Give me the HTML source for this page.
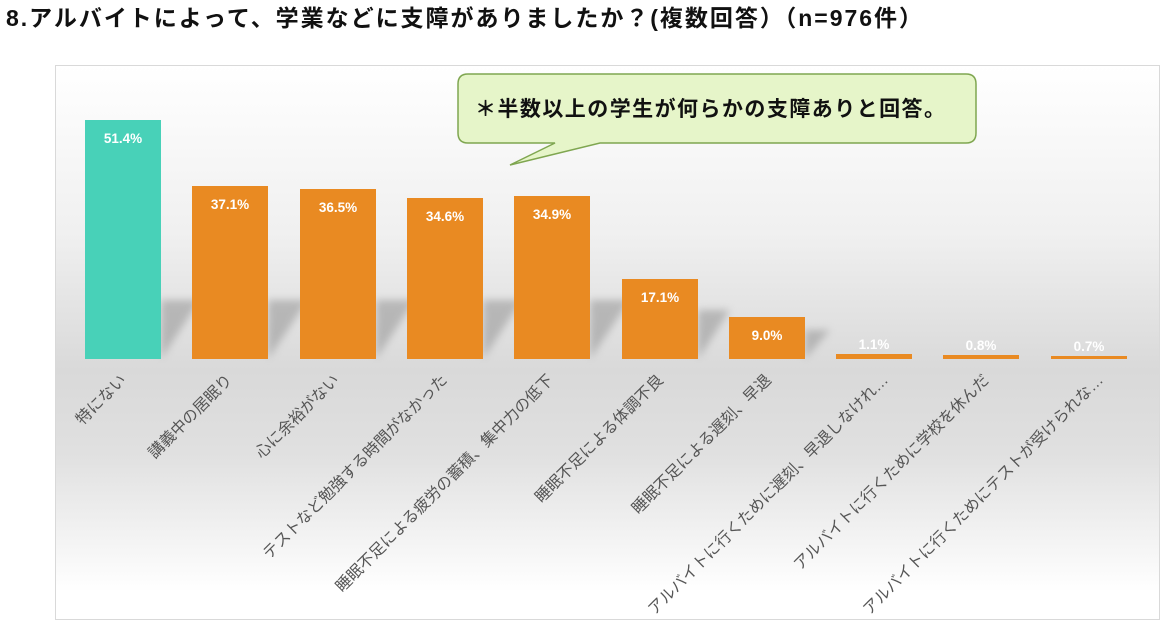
<!DOCTYPE html>
<html><head><meta charset="utf-8"><style>
body{margin:0;background:#fff;width:1166px;height:633px;overflow:hidden}
svg{display:block}
text{font-family:"Liberation Sans","Noto Sans CJK JP",sans-serif}
</style></head><body>
<svg width="1166" height="633" viewBox="0 0 1166 633">
<defs>
<linearGradient id="bg" x1="0" y1="0" x2="0" y2="1">
<stop offset="0" stop-color="#ffffff"/>
<stop offset="0.3" stop-color="#f0f0f0"/>
<stop offset="0.55" stop-color="#d9d9d9"/>
<stop offset="0.7" stop-color="#e0e0e0"/>
<stop offset="0.95" stop-color="#ffffff"/>
<stop offset="1" stop-color="#ffffff"/>
</linearGradient>
<filter id="bl" x="-50%" y="-50%" width="200%" height="200%"><feGaussianBlur stdDeviation="4"/></filter>
</defs>
<text x="6" y="26" font-size="23" font-weight="bold" fill="#111" textLength="916" lengthAdjust="spacing">8.アルバイトによって、学業などに支障がありましたか？(複数回答）（n=976件）</text>
<rect x="55.5" y="65.5" width="1104" height="554" fill="url(#bg)" stroke="#d9d9d9"/>
<g fill="#9a9a9a" opacity="0.6" filter="url(#bl)">
<polygon points="161,300 200,300 161,359"/>
<polygon points="268,300 308,300 268,359"/>
<polygon points="376,300 415,300 376,359"/>
<polygon points="483,300 522,300 483,359"/>
<polygon points="590,300 630,300 590,359"/>
<polygon points="698,310 730,310 698,359"/>
<polygon points="805,330 830,330 805,359"/>
</g>
<rect x="85" y="120" width="76" height="239" fill="#48d1b8"/>
<g fill="#e98a22">
<rect x="192" y="186" width="76" height="173"/>
<rect x="300" y="189" width="76" height="170"/>
<rect x="407" y="198" width="76" height="161"/>
<rect x="514" y="196" width="76" height="163"/>
<rect x="622" y="279" width="76" height="80"/>
<rect x="729" y="317" width="76" height="42"/>
<rect x="836" y="354" width="76" height="5"/>
<rect x="943" y="355" width="76" height="4"/>
<rect x="1051" y="356" width="76" height="3"/>
</g>
<g font-size="13.5" font-weight="bold" fill="#fff" text-anchor="middle">
<text x="123" y="143">51.4%</text>
<text x="230" y="209">37.1%</text>
<text x="338" y="212">36.5%</text>
<text x="445" y="221">34.6%</text>
<text x="552" y="219">34.9%</text>
<text x="660" y="302">17.1%</text>
<text x="767" y="340">9.0%</text>
<text x="874" y="349">1.1%</text>
<text x="981" y="350">0.8%</text>
<text x="1089" y="351">0.7%</text>
</g>
<g font-size="15.8" fill="#555" text-anchor="end">
<text transform="translate(127,381) rotate(-45)">特にない</text>
<text transform="translate(233,381) rotate(-45)">講義中の居眠り</text>
<text transform="translate(340,381) rotate(-45)">心に余裕がない</text>
<text transform="translate(448,381) rotate(-45)">テストなど勉強する時間がなかった</text>
<text transform="translate(554,381) rotate(-45)">睡眠不足による疲労の蓄積、集中力の低下</text>
<text transform="translate(664,381) rotate(-45)">睡眠不足による体調不良</text>
<text transform="translate(772,381) rotate(-45)">睡眠不足による遅刻、早退</text>
<text transform="translate(889,381) rotate(-45)">アルバイトに行くために遅刻、早退しなけれ…</text>
<text transform="translate(990,381) rotate(-45)">アルバイトに行くために学校を休んだ</text>
<text transform="translate(1104,381) rotate(-45)">アルバイトに行くためにテストが受けられな…</text>
</g>
<path d="M468,74 H966 Q976,74 976,84 V133 Q976,143 966,143 H600 L510,165 L555,143 H468 Q458,143 458,133 V84 Q458,74 468,74 Z" fill="#e6f5c9" stroke="#7fa650" stroke-width="1.5"/>
<text x="475" y="116" font-size="21" font-weight="bold" fill="#111" textLength="470" lengthAdjust="spacing">＊半数以上の学生が何らかの支障ありと回答。</text>
</svg>
</body></html>
